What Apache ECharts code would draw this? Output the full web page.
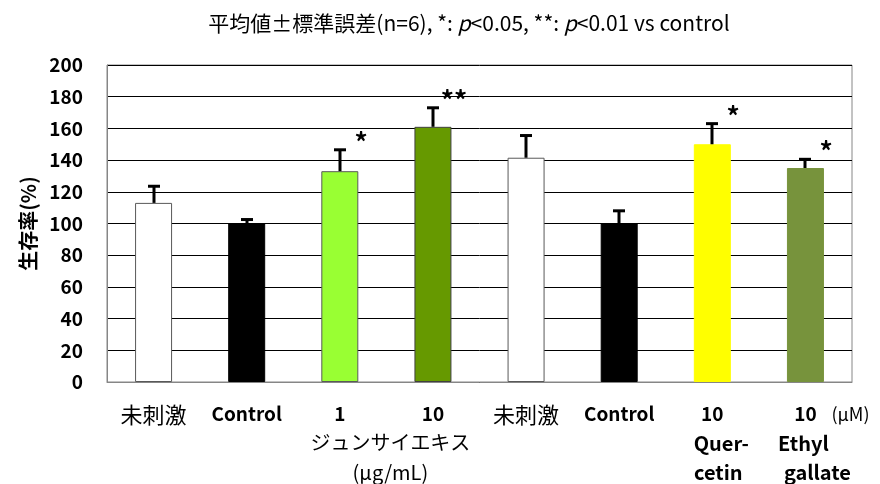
<!DOCTYPE html>
<html>
<head>
<meta charset="utf-8">
<script src="https://cdn.jsdelivr.net/npm/echarts@6/dist/echarts.min.js"></script>
<style>html,body{margin:0;padding:0;background:#fff;}#c{width:880px;height:484px;}</style>
</head>
<body>
<div id="c"></div>
<script>
var categories = ['未刺激', 'Control', '1', '10', '未刺激', 'Control', '10', '10'];
var means = [113, 100, 133, 161, 141.5, 100, 150, 135];
var sds = [10.5, 2.5, 13.5, 12, 14, 8, 13, 5.5];
var signif = ['', '', '*', '**', '', '', '*', '*'];
var barColors = ['#ffffff', '#000000', '#99ff33', '#669900', '#ffffff', '#000000', '#ffff00', '#77933c'];
var barBorders = ['#595959', '#000000', '#595959', '#404040', '#595959', '#000000', '#ffff00', '#77933c'];
var yTicks = [0, 20, 40, 60, 80, 100, 120, 140, 160, 180, 200];
var titleText = '平均値±標準誤差(n=6), *: p<0.05, **: p<0.01 vs control';
var yName = '生存率(%)';
var groupLabel1 = ['ジュンサイエキス', '(μg/mL)'];
var groupLabel2 = ['Quer-', 'cetin'];
var groupLabel3 = ['Ethyl', 'gallate'];
var unitLabel = '(μM)';

var FONT = '"Noto Sans CJK JP", "Noto Sans", sans-serif';
var chart = echarts.init(document.getElementById('c'), null, {renderer: 'canvas'});

function isCJK(s) { return /[\u3000-\u9fff]/.test(s); }

var option = {
  backgroundColor: '#ffffff',
  animation: false,
  title: {
    text: '{a|平均値±標準誤差(n=6), *: }{i|p}{a|<0.05, **: }{i|p}{a|<0.01 vs control}',
    left: 464,
    textAlign: 'center',
    top: 8,
    textStyle: {
      fontWeight: 'normal',
      rich: {
        a: {fontFamily: FONT, fontSize: 21, fontWeight: 'normal', color: '#000'},
        i: {fontFamily: FONT, fontSize: 21, fontWeight: 'normal', color: '#000', fontStyle: 'italic'}
      }
    }
  },
  grid: {left: 107, right: 28, top: 65, bottom: 102, show: true, borderColor: '#868686', borderWidth: 1, backgroundColor: 'transparent'},
  xAxis: {
    type: 'category',
    data: categories,
    axisLine: {lineStyle: {color: '#868686', width: 1}},
    axisTick: {show: false},
    axisLabel: {
      margin: 22,
      interval: 0,
      formatter: function (v) { return isCJK(v) ? '{c|' + v + '}' : '{l|' + v + '}'; },
      rich: {
        c: {fontFamily: FONT, fontSize: 22, fontWeight: 'normal', color: '#000'},
        l: {fontFamily: FONT, fontSize: 19, fontWeight: 'bold', color: '#000'}
      }
    }
  },
  yAxis: {
    type: 'value',
    min: 0, max: 200, interval: 20,
    name: yName,
    nameLocation: 'middle',
    nameGap: 64,
    nameRotate: 90,
    nameTextStyle: {fontFamily: FONT, fontSize: 20, fontWeight: 'bold', color: '#000'},
    axisLine: {show: true, lineStyle: {color: '#868686', width: 1}},
    axisTick: {show: false},
    splitLine: {lineStyle: {color: '#000', width: 1}},
    axisLabel: {
      margin: 24, color: '#000', fontFamily: FONT, fontSize: 19, fontWeight: 'bold',
      formatter: function (v) { return yTicks.indexOf(v) >= 0 ? String(v) : ''; }
    }
  },
  series: [
    {
      type: 'bar',
      barWidth: 37,
      data: means.map(function (v, i) {
        return {value: v, itemStyle: {color: barColors[i], borderColor: barBorders[i], borderWidth: 1}};
      }),
      z: 2
    },
    {
      type: 'custom',
      z: 5,
      data: means.map(function (v, i) { return [i, v, sds[i]]; }),
      renderItem: function (params, api) {
        var i = api.value(0);
        var top = api.coord([i, api.value(1) + api.value(2)]);
        var base = api.coord([i, api.value(1)]);
        var x = Math.round(base[0]);
        var children = [
          {type: 'line', shape: {x1: x, y1: base[1], x2: x, y2: top[1]}, style: {stroke: '#000', lineWidth: 3}},
          {type: 'line', shape: {x1: x - 6, y1: top[1], x2: x + 6, y2: top[1]}, style: {stroke: '#000', lineWidth: 3}}
        ];
        var s = signif[i];
        if (s) {
          children.push({
            type: 'text',
            style: {text: s, x: x + 21, y: top[1] + 5, align: 'center', verticalAlign: 'bottom',
              font: 'bold 26px ' + FONT, fill: '#000'}
          });
        }
        return {type: 'group', children: children};
      }
    }
  ]
};
chart.setOption(option);

function px(i) { return chart.convertToPixel({xAxisIndex: 0}, i); }
var labelFont = '20px ' + FONT;
var boldFont = 'bold 20px ' + FONT;
var mid12 = (px(2) + px(3)) / 2;
chart.setOption({
  graphic: [
    {type: 'text', style: {text: groupLabel1[0], x: mid12 + 4, y: 442, align: 'center', verticalAlign: 'middle', font: labelFont, fill: '#000'}},
    {type: 'text', style: {text: groupLabel1[1], x: mid12 + 4, y: 472, align: 'center', verticalAlign: 'middle', font: labelFont, fill: '#000'}},
    {type: 'text', style: {text: groupLabel2[0], x: px(6) + 9, y: 443, align: 'center', verticalAlign: 'middle', font: boldFont, fill: '#000'}},
    {type: 'text', style: {text: groupLabel2[1], x: px(6) + 6, y: 472, align: 'center', verticalAlign: 'middle', font: boldFont, fill: '#000'}},
    {type: 'text', style: {text: groupLabel3[0], x: px(7) - 2, y: 443, align: 'center', verticalAlign: 'middle', font: boldFont, fill: '#000'}},
    {type: 'text', style: {text: groupLabel3[1], x: px(7) + 12, y: 472, align: 'center', verticalAlign: 'middle', font: boldFont, fill: '#000'}},
    {type: 'text', style: {text: unitLabel, x: px(7) + 26, y: 414, align: 'left', verticalAlign: 'middle', font: '18px ' + FONT, fill: '#000'}}
  ]
});
</script>
</body>
</html>
